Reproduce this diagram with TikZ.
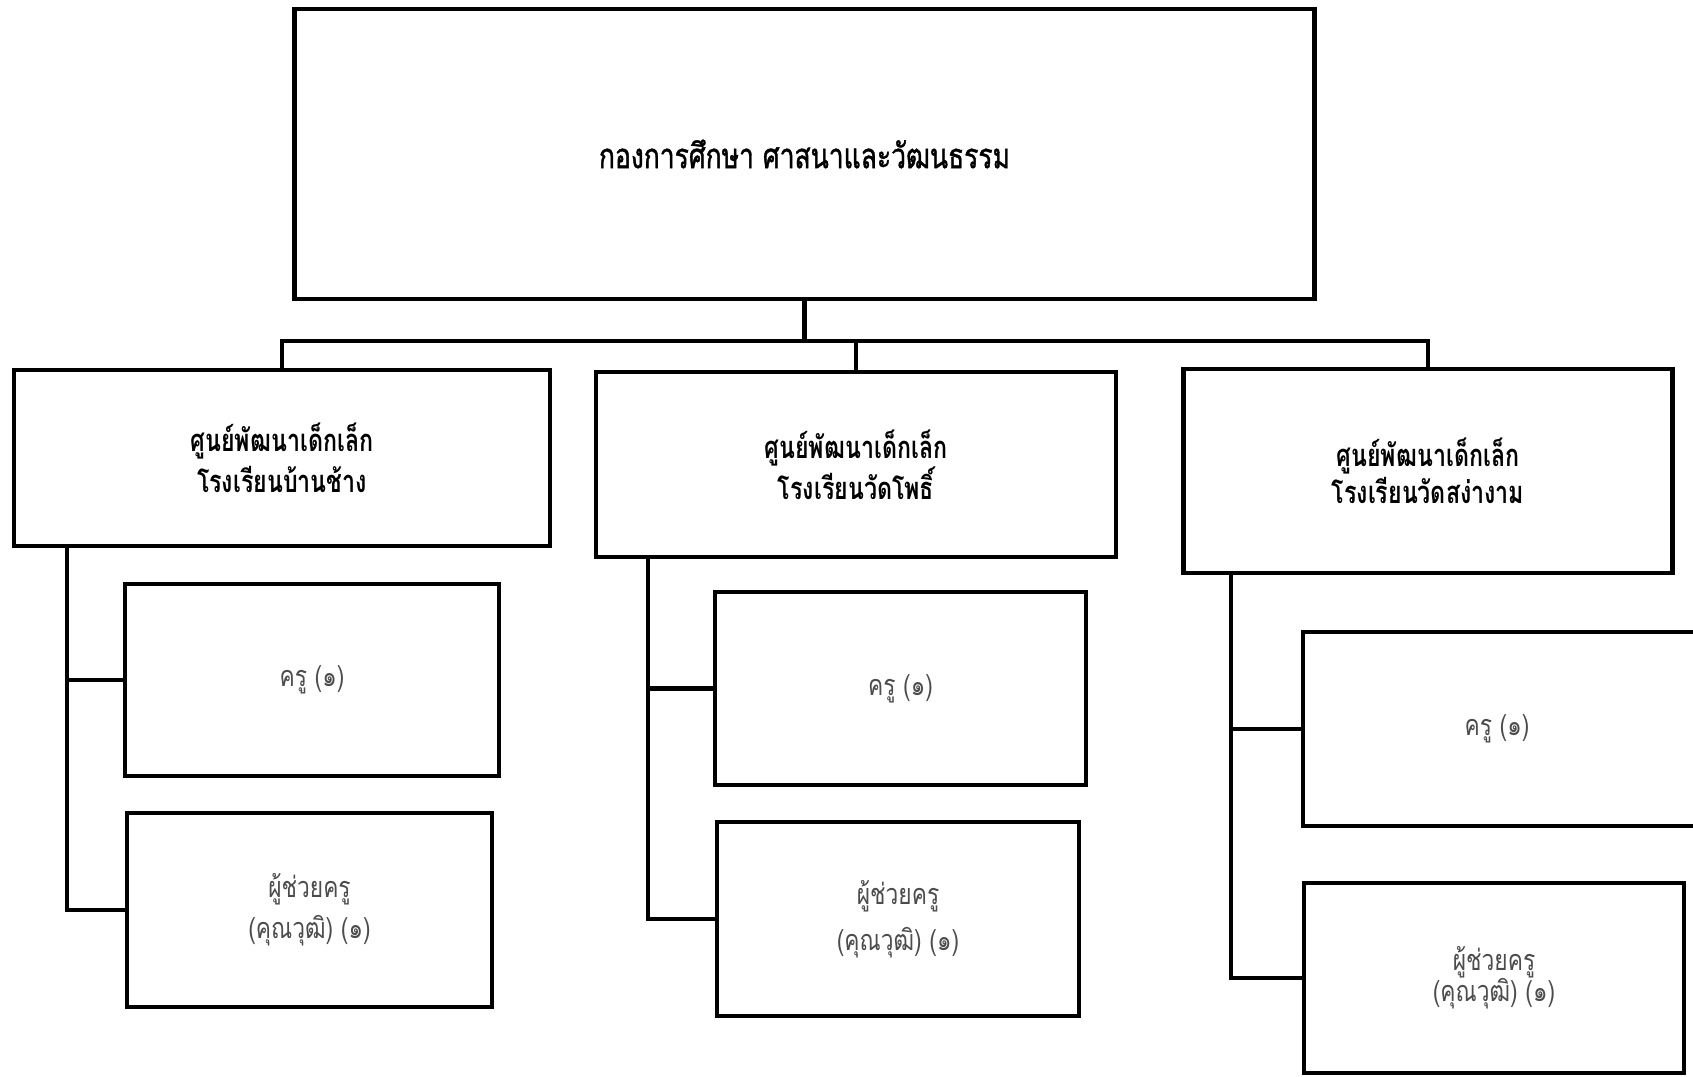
\documentclass[tikz,border=0pt]{standalone}
\usepackage{fontspec}
\newfontfamily\thaitop[Script=Thai,FakeStretch=0.76,FakeBold=1.2]{Loma}
\newfontfamily\thaititle[Script=Thai,FakeStretch=0.75]{Loma}
\newfontfamily\thaisub[Script=Thai,FakeStretch=0.79]{Loma}
\begin{document}
\begin{tikzpicture}[x=0.01cm,y=-0.01cm,
  box/.style={draw=black,line width=1.3pt,fill=white,align=center,inner sep=0pt},
  conn/.style={draw=black,line width=1.3pt},
  title/.style={font=\thaititle\bfseries\fontsize{8.8}{11.6}\selectfont},
  sub/.style={font=\thaisub\fontsize{8.2}{11.6}\selectfont,text=black!70}]
\clip (0,0) rectangle (1693,1077);
\fill[white] (0,0) rectangle (1693,1077);
% top
\node[box,minimum width=10.19cm,minimum height=2.90cm,font=\thaitop\fontsize{9.9}{12}\selectfont] (top) at (804.5,154) {กองการศึกษา ศาสนาและวัฒนธรรม};
% level 2
\node[box,title,minimum width=5.36cm,minimum height=1.76cm] (b1) at (282,458) {ศูนย์พัฒนาเด็กเล็ก\\โรงเรียนบ้านช้าง};
\node[box,title,minimum width=5.20cm,minimum height=1.85cm] (b2) at (856,464.5) {ศูนย์พัฒนาเด็กเล็ก\\โรงเรียนวัดโพธิ์};
\node[box,title,minimum width=4.89cm,minimum height=2.04cm,font=\thaititle\bfseries\fontsize{8.8}{8.8}\selectfont] (b3) at (1428,471) {ศูนย์พัฒนาเด็กเล็ก\\โรงเรียนวัดสง่างาม};
% level 3
\node[box,sub,minimum width=3.74cm,minimum height=1.92cm] (b1a) at (312,680) {ครู (๑)};
\node[box,sub,minimum width=3.65cm,minimum height=1.94cm] (b1b) at (309.5,910) {ผู้ช่วยครู\\(คุณวุฒิ) (๑)};
\node[box,sub,minimum width=3.71cm,minimum height=1.93cm] (b2a) at (900.5,688.5) {ครู (๑)};
\node[box,sub,minimum width=3.62cm,minimum height=1.94cm,font=\thaisub\fontsize{8.2}{13}\selectfont] (b2b) at (898,919) {ผู้ช่วยครู\\(คุณวุฒิ) (๑)};
\node[box,sub,minimum width=4.00cm,minimum height=1.94cm] (b3a) at (1503,729) {};
\node[sub] at (1497,729) {ครู (๑)};
\node[box,sub,minimum width=3.80cm,minimum height=1.90cm,font=\thaisub\fontsize{8.2}{8.8}\selectfont] (b3b) at (1494,978) {ผู้ช่วยครู\\(คุณวุฒิ) (๑)};
% bus
\coordinate (busL) at (282,341);
\coordinate (busR) at (1428,341);
\draw[conn] (b1.north) -- (busL) -- (busR) -- (b3.north);
\draw[conn] (top.south) -- (top.south |- busL);
\draw[conn] (b2.north) -- (b2.north |- busL);
% sub branches
\coordinate (s1) at (67,0);
\coordinate (s2) at (648,0);
\coordinate (s3) at (1231,0);
\draw[conn] (b1.south -| s1) |- (b1b.west);
\draw[conn] (b1a.west) -- (b1a.west -| s1);
\draw[conn] (b2.south -| s2) |- (b2b.west);
\draw[conn] (b2a.west) -- (b2a.west -| s2);
\draw[conn] (b3.south -| s3) |- (b3b.west);
\draw[conn] (b3a.west) -- (b3a.west -| s3);
\end{tikzpicture}
\end{document}
